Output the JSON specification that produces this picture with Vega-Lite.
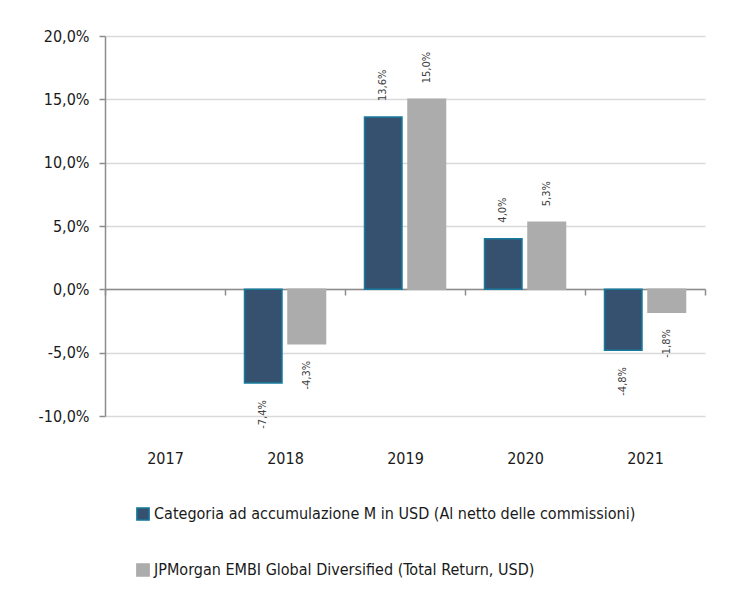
{
  "$schema": "https://vega.github.io/schema/vega-lite/v6.json",
  "width": 600,
  "height": 380,
  "autosize": "none",
  "padding": {"left": 105, "top": 36, "right": 42, "bottom": 174},
  "background": "white",
  "config": {
    "locale": {"number": {"decimal": ",", "thousands": ".", "grouping": [3], "currency": ["", " €"], "minus": "-"}},
    "view": {"stroke": null},
    "font": "DejaVu Sans Condensed, sans-serif"
  },
  "data": {
    "values": [
      {"year": "2018", "series": "Categoria ad accumulazione M in USD (Al netto delle commissioni)", "value": -0.074},
      {"year": "2018", "series": "JPMorgan EMBI Global Diversified (Total Return, USD)", "value": -0.043},
      {"year": "2019", "series": "Categoria ad accumulazione M in USD (Al netto delle commissioni)", "value": 0.136},
      {"year": "2019", "series": "JPMorgan EMBI Global Diversified (Total Return, USD)", "value": 0.150},
      {"year": "2020", "series": "Categoria ad accumulazione M in USD (Al netto delle commissioni)", "value": 0.040},
      {"year": "2020", "series": "JPMorgan EMBI Global Diversified (Total Return, USD)", "value": 0.053},
      {"year": "2021", "series": "Categoria ad accumulazione M in USD (Al netto delle commissioni)", "value": -0.048},
      {"year": "2021", "series": "JPMorgan EMBI Global Diversified (Total Return, USD)", "value": -0.018}
    ]
  },
  "encoding": {
    "x": {
      "field": "year",
      "type": "nominal",
      "scale": {"domain": ["2017", "2018", "2019", "2020", "2021"], "paddingInner": 0, "paddingOuter": 0},
      "axis": {
        "title": null,
        "orient": "bottom",
        "offset": -127,
        "tickBand": "extent",
        "domainColor": "#8c8c8c",
        "domainWidth": 1.5,
        "tickColor": "#8c8c8c",
        "tickWidth": 1.5,
        "tickSize": 6,
        "labelAngle": 0,
        "labelPadding": 155,
        "labelFontSize": 16,
        "labelColor": "#1a1a1a",
        "grid": false
      }
    },
    "xOffset": {"field": "series", "type": "nominal", "scale": {"paddingInner": 0.138, "paddingOuter": 0.448}},
    "y": {
      "field": "value",
      "type": "quantitative",
      "scale": {"domain": [-0.1, 0.2], "nice": false, "zero": false},
      "axis": {
        "title": null,
        "format": ".1%",
        "values": [-0.1, -0.05, 0, 0.05, 0.1, 0.15, 0.2],
        "domainColor": "#8c8c8c",
        "domainWidth": 1.5,
        "tickColor": "#8c8c8c",
        "tickWidth": 1.5,
        "tickSize": 6,
        "labelPadding": 10,
        "labelFontSize": 16,
        "labelColor": "#1a1a1a",
        "gridColor": "#d9d9d9",
        "gridWidth": 1.5
      }
    }
  },
  "layer": [
    {
      "mark": {"type": "bar", "strokeWidth": 1.5},
      "encoding": {
        "fill": {
          "field": "series",
          "type": "nominal",
          "scale": {
            "domain": ["Categoria ad accumulazione M in USD (Al netto delle commissioni)", "JPMorgan EMBI Global Diversified (Total Return, USD)"],
            "range": ["#36506f", "#acacad"]
          },
          "legend": {
            "title": null,
            "orient": "none",
            "legendX": 30,
            "legendY": 470,
            "direction": "vertical",
            "symbolType": "square",
            "symbolSize": 150,
            "symbolStrokeWidth": 1.5,
            "labelFontSize": 16,
            "labelColor": "#1a1a1a",
            "labelOffset": 3,
            "rowPadding": 36,
            "labelLimit": 600
          }
        },
        "stroke": {
          "field": "series",
          "type": "nominal",
          "scale": {
            "domain": ["Categoria ad accumulazione M in USD (Al netto delle commissioni)", "JPMorgan EMBI Global Diversified (Total Return, USD)"],
            "range": ["#167b9c", "#acacad"]
          },
          "legend": null
        }
      }
    },
    {
      "transform": [{"filter": "datum.value >= 0"}],
      "mark": {"type": "text", "angle": 270, "align": "left", "baseline": "middle", "dx": 16, "fontSize": 11, "color": "#404040"},
      "encoding": {"text": {"field": "value", "type": "quantitative", "format": ".1%"}}
    },
    {
      "transform": [{"filter": "datum.value < 0"}],
      "mark": {"type": "text", "angle": 270, "align": "right", "baseline": "middle", "dx": -17, "fontSize": 11, "color": "#404040"},
      "encoding": {"text": {"field": "value", "type": "quantitative", "format": ".1%"}}
    }
  ]
}
